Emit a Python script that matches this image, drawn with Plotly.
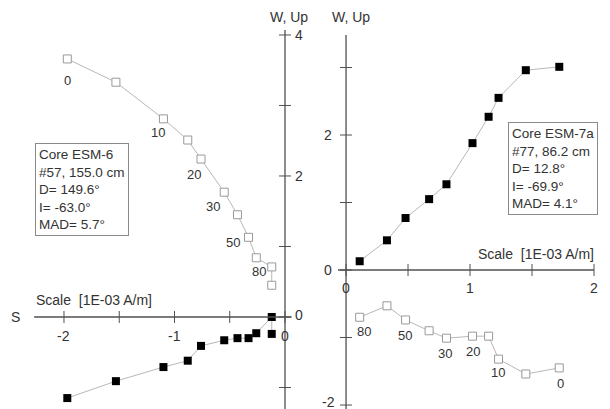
import plotly.graph_objects as go

# ---------------- data ----------------
# Left panel: Core ESM-6
left_x = [-1.97, -1.53, -1.10, -0.88, -0.76, -0.55, -0.43, -0.33, -0.26, -0.12, -0.12]
left_horiz = [-1.15, -0.91, -0.71, -0.62, -0.41, -0.33, -0.30, -0.30, -0.23, 0.0, -0.24]
left_vert = [3.66, 3.33, 2.81, 2.51, 2.24, 1.77, 1.45, 1.13, 0.84, 0.71, 0.45]
left_step_labels = ["0", "10", "20", "30", "50", "80"]
left_step_index = [0, 2, 4, 6, 7, 9]

# Right panel: Core ESM-7a
right_x = [1.72, 1.45, 1.23, 1.15, 1.02, 0.81, 0.67, 0.48, 0.33, 0.11]
right_horiz = [3.01, 2.96, 2.55, 2.27, 1.88, 1.27, 1.05, 0.77, 0.44, 0.13]
right_vert = [-1.45, -1.54, -1.32, -0.98, -0.98, -1.01, -0.90, -0.74, -0.53, -0.70]
right_step_labels = ["0", "10", "20", "30", "50", "80"]
right_step_index = [0, 2, 4, 5, 7, 9]

left_xticks = [-2, -1.5, -1, -0.5, 0]
left_xlabels = {-2: "-2", -1: "-1", 0: "0"}
left_yticks = [-1, 0, 1, 2, 3, 4]
left_ylabels = {0: "0", 2: "2", 4: "4"}
right_xticks = [0, 0.5, 1, 1.5, 2]
right_xlabels = {0: "0", 1: "1", 2: "2"}
right_yticks = [-2, -1, 0, 1, 2, 3]
right_ylabels = {-2: "-2", 0: "0", 2: "2"}

left_info = "Core ESM-6<br>#57, 155.0 cm<br>D= 149.6°<br>I= -63.0°<br>MAD= 5.7°"
right_info = "Core ESM-7a<br>#77, 86.2 cm<br>D= 12.8°<br>I= -69.9°<br>MAD= 4.1°"
axis_title = "Scale\u00a0 [1E-03 A/m]"
vert_title = "W, Up"

# ---------------- layout ----------------
W, H = 610, 409
FONT = "Liberation Sans, Arial, sans-serif"
AXC = "#505050"
LINEC = "#b8b8b8"
OPENC = "#9a9a9a"
TXT = "#333333"

L_XR = [-2.579, 0.181]
L_YR = [-1.305, 4.496]
R_XR = [-0.331, 2.129]
R_YR = [-2.059, 4.0]

fig = go.Figure()

def add_series(x, yh, yv, xa, ya):
    fig.add_trace(go.Scatter(x=x, y=yv, mode="lines+markers", xaxis=xa, yaxis=ya,
                             line=dict(color=LINEC, width=1),
                             marker=dict(symbol="square", size=8, color="white",
                                         line=dict(color=OPENC, width=1)),
                             showlegend=False, hoverinfo="skip"))
    fig.add_trace(go.Scatter(x=x, y=yh, mode="lines+markers", xaxis=xa, yaxis=ya,
                             line=dict(color=LINEC, width=1),
                             marker=dict(symbol="square", size=8, color="black",
                                         line=dict(width=0)),
                             showlegend=False, hoverinfo="skip"))

add_series(left_x, left_horiz, left_vert, "x", "y")
add_series(right_x, right_horiz, right_vert, "x2", "y2")

shapes = []
annots = []

def ppu(rng, pixels):
    return pixels / (rng[1] - rng[0])

Lpx, Lpy = ppu(L_XR, W / 2), ppu(L_YR, H)
Rpx, Rpy = ppu(R_XR, W / 2), ppu(R_YR, H)

def line(xr, yr, x0, y0, x1, y1, w=1):
    shapes.append(dict(type="line", xref=xr, yref=yr, x0=x0, y0=y0, x1=x1, y1=y1,
                       line=dict(color=AXC, width=w)))

def text(xr, yr, x, y, t, xs=0, ys=0, size=14, xanchor="center", yanchor="middle", color=TXT):
    annots.append(dict(xref=xr, yref=yr, x=x, y=y, text=t, showarrow=False,
                       xshift=xs, yshift=ys, xanchor=xanchor, yanchor=yanchor,
                       font=dict(family=FONT, size=size, color=color)))

TK = 6  # tick half-length px

# left axes
line("x", "y", -2.27, 0, 0.06, 0, 1.3)
line("x", "y", 0, 4.07, 0, L_YR[0], 1.3)
for t in left_xticks:
    line("x", "y", t, -TK / Lpy, t, TK / Lpy)
    if t in left_xlabels:
        text("x", "y", t, 0, left_xlabels[t], ys=-19)
for t in left_yticks:
    line("x", "y", -TK / Lpx, t, TK / Lpx, t)
    if t in left_ylabels:
        text("x", "y", 0, t, left_ylabels[t], xs=14, ys=2 if t == 0 else 0)

# right axes
line("x2", "y2", -0.065, 0, 2.0, 0, 1.3)
line("x2", "y2", 0, 3.48, 0, R_YR[0], 1.3)
for t in right_xticks:
    line("x2", "y2", t, -TK / Rpy, t, TK / Rpy)
    if t in right_xlabels:
        text("x2", "y2", t, 0, right_xlabels[t], ys=-18)
for t in right_yticks:
    line("x2", "y2", -TK / Rpx, t, TK / Rpx, t)
    if t in right_ylabels:
        text("x2", "y2", 0, t, right_ylabels[t], xs=-18, ys=3 if t == -2 else 0)

# axis titles
text("x", "y", L_XR[0], 0, "S", xs=15)
text("x", "y", -2.27, 0, axis_title, xs=0, ys=17, xanchor="left")
text("x", "y", 0, 4.07, vert_title, xs=4, ys=13)
text("x2", "y2", 0, 3.48, vert_title, xs=5, ys=18)
text("x2", "y2", 2.0, 0, axis_title, xs=2, ys=16, xanchor="right")
text("paper", "y2", 1.0, 0, "N", xs=11, ys=6)

# step labels
left_offsets = [(0, -22), (-5, -14), (-7, -15), (-24, 8), (-16, -5), (-13, -5)]
for lab, idx, (dx, dy) in zip(left_step_labels, left_step_index, left_offsets):
    text("x", "y", left_x[idx], left_vert[idx], lab, xs=dx, ys=dy, size=13)
right_offsets = [(1, -16), (-1, -13), (0, -15), (-1, -15), (-1, -16), (4, -14)]
for lab, idx, (dx, dy) in zip(right_step_labels, right_step_index, right_offsets):
    text("x2", "y2", right_x[idx], right_vert[idx], lab, xs=dx, ys=dy, size=13)

# info boxes
annots.append(dict(xref="paper", yref="paper", x=35 / W, y=1 - 143 / H, text=left_info,
                   showarrow=False, xanchor="left", yanchor="top", align="left",
                   bordercolor="#8a8a8a", borderwidth=1, borderpad=3, bgcolor="white",
                   font=dict(family=FONT, size=13.5, color=TXT)))
annots.append(dict(xref="paper", yref="paper", x=508 / W, y=1 - 122 / H, text=right_info,
                   showarrow=False, xanchor="left", yanchor="top", align="left",
                   bordercolor="#8a8a8a", borderwidth=1, borderpad=3, bgcolor="white",
                   font=dict(family=FONT, size=13.5, color=TXT)))

fig.update_layout(
    width=W, height=H, margin=dict(l=0, r=0, t=0, b=0),
    paper_bgcolor="white", plot_bgcolor="rgba(0,0,0,0)",
    xaxis=dict(domain=[0, 0.5], range=L_XR, visible=False, fixedrange=True),
    yaxis=dict(domain=[0, 1], range=L_YR, visible=False, fixedrange=True),
    xaxis2=dict(domain=[0.5, 1], range=R_XR, visible=False, anchor="y2", fixedrange=True),
    yaxis2=dict(domain=[0, 1], range=R_YR, visible=False, anchor="x2", fixedrange=True),
    shapes=shapes, annotations=annots,
)

fig.write_html("out.html", config={"displayModeBar": False},
               post_script="document.body.style.margin='0';document.body.style.overflow='hidden';")
